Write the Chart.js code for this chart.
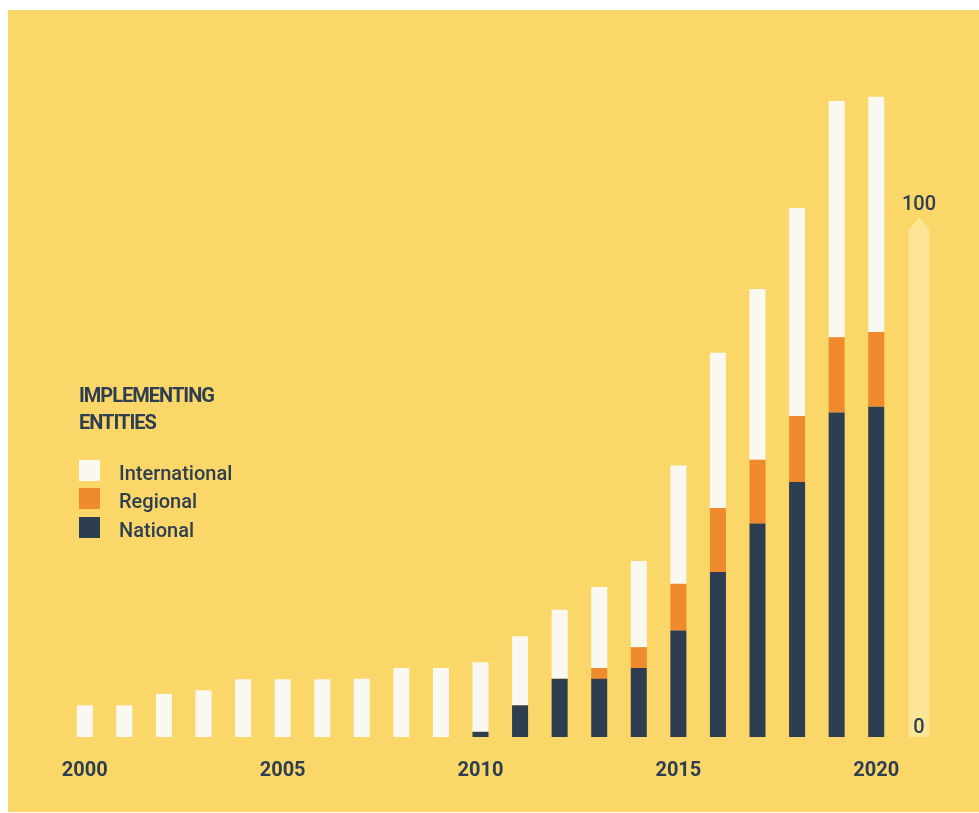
<!DOCTYPE html>
<html lang="en">
<head>
    <meta charset="UTF-8">
    <title>Implementing entities</title>
    <script src="https://cdn.jsdelivr.net/npm/chart.js"></script>
    <style>
        body {
            margin: 0;
            background-color: #fff;
            font-family: Roboto, Arial, sans-serif;
            color: #2d3e50;
        }
        .panel {
            position: absolute;
            left: 8px;
            top: 10px;
            width: 971px;
            height: 802px;
            background-color: #fbd669;
        }
        .wrap {
            position: absolute;
            left: 0;
            top: 0;
            width: 979px;
            height: 813px;
        }
        .legend-title {
            position: absolute;
            left: 79px;
            top: 382px;
            font-size: 20px;
            font-weight: 700;
            line-height: 27px;
            letter-spacing: -1px;
        }
        .legend-row {
            position: absolute;
            left: 79px;
            height: 28px;
        }
        .legend-row .box {
            position: absolute;
            left: 0;
            top: 0;
            width: 21px;
            height: 21px;
        }
        .legend-row .txt {
            position: absolute;
            left: 40px;
            top: 3px;
            font-size: 20px;
            font-weight: 500;
            line-height: 21px;
            white-space: nowrap;
        }
    </style>
</head>
<body>
    <div class="panel"></div>
    <div class="wrap">
        <canvas id="myChart" width="979" height="813"></canvas>
    </div>
    <div class="legend-title">IMPLEMENTING<br>ENTITIES</div>
    <div id="legend"></div>

    <script>
        const years = ['2000', '2001', '2002', '2003', '2004', '2005', '2006', '2007', '2008', '2009', '2010',
                       '2011', '2012', '2013', '2014', '2015', '2016', '2017', '2018', '2019', '2020'];
        const national = [0, 0, 0, 0, 0, 0, 0, 0, 0, 0, 1, 6.1, 11.2, 11.2, 13.3, 20.5, 31.8, 41.1, 49.1, 62.5, 63.6];
        const regional = [0, 0, 0, 0, 0, 0, 0, 0, 0, 0, 0, 0, 0, 2.1, 4.0, 9.0, 12.3, 12.3, 12.7, 14.5, 14.4];
        const international = [6.1, 6.1, 8.3, 9.0, 11.1, 11.1, 11.1, 11.2, 13.3, 13.3, 13.4, 13.3, 13.3,
                               15.6, 16.6, 22.8, 29.9, 32.9, 40.1, 45.5, 45.3];
        const scaleTicks = [0, 100];

        const ink = '#2d3e50';

        // light arrow on the right showing the 0-100 scale
        const scaleArrow = {
            id: 'scaleArrow',
            beforeDatasetsDraw(chart) {
                const c = chart.ctx;
                const y = chart.scales.y;
                const x0 = chart.chartArea.right + 23;
                const half = 10.3;
                const bottom = y.getPixelForValue(scaleTicks[0]);
                const tip = y.getPixelForValue(scaleTicks[1]);
                c.save();
                c.fillStyle = '#fde598';
                c.beginPath();
                c.moveTo(x0 - half, bottom);
                c.lineTo(x0 - half, tip + 12);
                c.lineTo(x0, tip);
                c.lineTo(x0 + half, tip + 12);
                c.lineTo(x0 + half, bottom);
                c.closePath();
                c.fill();
                c.fillStyle = ink;
                c.font = '500 20px Roboto';
                c.textAlign = 'center';
                c.textBaseline = 'alphabetic';
                c.fillText(String(scaleTicks[0]), x0, bottom - 4);
                c.fillText(String(scaleTicks[1]), x0, tip - 8);
                c.restore();
            }
        };

        const ctx = document.getElementById('myChart').getContext('2d');
        const myChart = new Chart(ctx, {
            type: 'bar',
            data: {
                labels: years,
                datasets: [
                    { label: 'National', data: national, backgroundColor: '#2d3e50' },
                    { label: 'Regional', data: regional, backgroundColor: '#ef8b2c' },
                    { label: 'International', data: international, backgroundColor: '#f9f9f2' }
                ]
            },
            options: {
                responsive: false,
                animation: false,
                layout: {
                    padding: { left: 65, right: 83, top: 62, bottom: 8 }
                },
                datasets: {
                    bar: {
                        barPercentage: 0.405,
                        categoryPercentage: 1,
                        borderWidth: 0
                    }
                },
                scales: {
                    x: {
                        stacked: true,
                        grid: { display: false, drawTicks: false },
                        border: { display: false },
                        ticks: {
                            autoSkip: false,
                            maxRotation: 0,
                            padding: 22,
                            color: ink,
                            font: { family: 'Roboto', size: 20, weight: 'bold' },
                            callback: (val, i) => (Number(years[i]) % 5 === 0 ? years[i] : '')
                        }
                    },
                    y: {
                        stacked: true,
                        display: false,
                        min: 0,
                        max: 130
                    }
                },
                plugins: {
                    legend: { display: false },
                    tooltip: { enabled: false }
                }
            },
            plugins: [scaleArrow]
        });

        // legend built from the datasets, top to bottom as in the stack
        const legendEl = document.getElementById('legend');
        myChart.data.datasets.slice().reverse().forEach((ds, i) => {
            legendEl.innerHTML += `
                <div class="legend-row" style="top:${460 + i * 28.3}px">
                    <div class="box" style="background:${ds.backgroundColor}"></div>
                    <div class="txt">${ds.label}</div>
                </div>`;
        });
    </script>
</body>
</html>
